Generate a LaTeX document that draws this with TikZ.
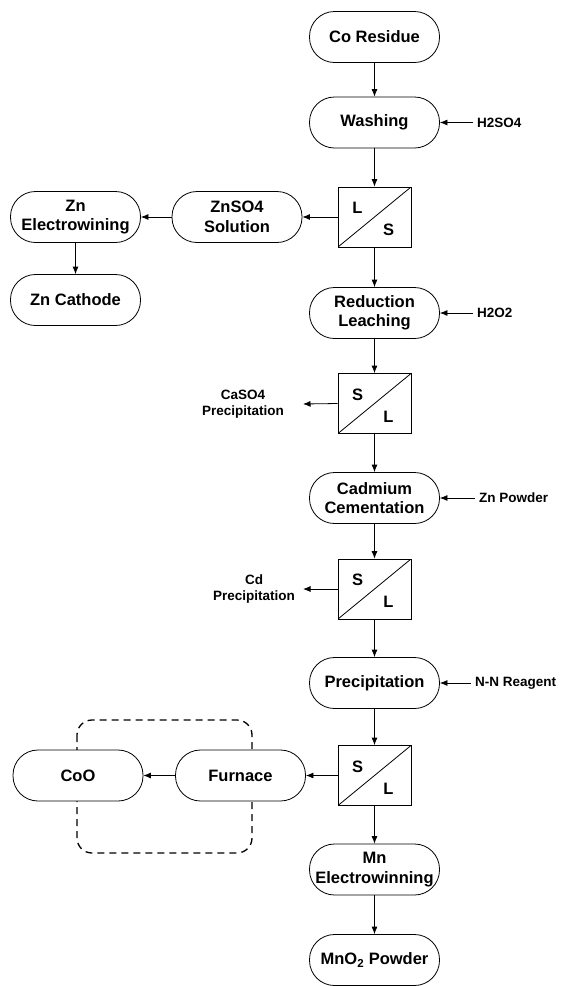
\documentclass[tikz,border=0pt]{standalone}
\usepackage{fontspec}
\setmainfont{Liberation Sans}
\usetikzlibrary{arrows.meta}
\begin{document}
\begin{tikzpicture}[x=1pt,y=-1pt,
  proc/.style={draw, fill=white, rounded corners=25pt, minimum width=130pt, minimum height=51pt, inner sep=0pt, align=center, font=\fontsize{16.5}{19.5}\selectfont\bfseries, line width=0.8pt},
  sepbox/.style={draw, fill=white, minimum width=73pt, minimum height=60pt, inner sep=0pt, line width=0.8pt,
    path picture={\draw[line width=0.8pt] (path picture bounding box.south west) -- (path picture bounding box.north east);}},
  sl/.style={font=\fontsize{16.5}{16.5}\selectfont\bfseries, inner sep=0pt},
  side/.style={font=\fontsize{13.5}{16.5}\selectfont\bfseries, align=center, inner sep=0pt},
  rside/.style={side, anchor=west, inner xsep=4pt},
  arr/.style={-{Latex[length=7.5pt,width=6pt]}, line width=0.8pt},
  dashbox/.style={line width=1.3pt, dash pattern=on 7pt off 5pt, rounded corners=15pt},
]
\useasboundingbox (0,0) rectangle (570,986);

% dashed enclosure (behind)
\draw[dashbox] (77,720) rectangle (252,853);

% main column
\node[proc] (cores) at (374.5,37) {Co Residue};
\node[proc] (wash) at (374.5,122.5) {Washing};
\node[sepbox] (s1) at (374.5,217) {};
\node[sl] (s1a) at ([xshift=-17pt,yshift=9pt]s1.center) {L};
\node[sl] (s1b) at ([xshift=14pt,yshift=-13pt]s1.center) {S};
\node[proc] (redl) at (374.5,313) {Reduction\\Leaching};
\node[sepbox] (s2) at (374.5,403.5) {};
\node[sl] (s2a) at ([xshift=-17pt,yshift=9pt]s2.center) {S};
\node[sl] (s2b) at ([xshift=14pt,yshift=-13pt]s2.center) {L};
\node[proc] (cdc) at (374.5,498) {Cadmium\\Cementation};
\node[sepbox] (s3) at (374.5,589) {};
\node[sl] (s3a) at ([xshift=-17pt,yshift=9pt]s3.center) {S};
\node[sl] (s3b) at ([xshift=14pt,yshift=-13pt]s3.center) {L};
\node[proc] (prec) at (374.5,683) {Precipitation};
\node[sepbox] (s4) at (374.5,775.5) {};
\node[sl] (s4a) at ([xshift=-17pt,yshift=9pt]s4.center) {S};
\node[sl] (s4b) at ([xshift=14pt,yshift=-13pt]s4.center) {L};
\node[proc] (mnel) at (374.5,869.5) {Mn\\Electrowinning};
\node[proc] (mno2) at (374.5,960) {MnO\textsubscript{2} Powder};

% left branches
\node[proc] (znso4) at (237,217) {ZnSO4\\Solution};
\node[proc] (znel) at (75.5,217) {Zn\\Electrowining};
\node[proc] (zncat) at (75.5,300) {Zn Cathode};
\node[proc] (furn) at (240.5,775.5) {Furnace};
\node[proc] (coo) at (78,775.5) {CoO};

% side reagents
\node[rside] (h2so4) at (473,122.5) {H2SO4};
\node[rside] (h2o2) at (473,313) {H2O2};
\node[rside] (znp) at (475,498) {Zn Powder};
\node[rside] (nn) at (471,683) {N-N Reagent};

\node[side] (caso4) at (243,404) {CaSO4\\Precipitation};
\coordinate (caso4t) at (303,404);
\node[side] (cdp) at (254,589) {Cd\\Precipitation};
\coordinate (cdpt) at (303,589);

% connectors
\draw[arr] (cores) -- (wash);
\draw[arr] (wash) -- (s1);
\draw[arr] (s1) -- (redl);
\draw[arr] (redl) -- (s2);
\draw[arr] (s2) -- (cdc);
\draw[arr] (cdc) -- (s3);
\draw[arr] (s3) -- (prec);
\draw[arr] (prec) -- (s4);
\draw[arr] (s4) -- (mnel);
\draw[arr] (mnel) -- (mno2);

\draw[arr] (s1) -- (znso4);
\draw[arr] (znso4) -- (znel);
\draw[arr] (znel) -- (zncat);
\draw[arr] (s4) -- (furn);
\draw[arr] (furn) -- (coo);

\draw[arr] (h2so4.west) -- (wash.east);
\draw[arr] (h2o2.west) -- (redl.east);
\draw[arr] (znp.west) -- (cdc.east);
\draw[arr] (nn.west) -- (prec.east);

\draw[arr] (s2.west) -- (caso4t);
\draw[arr] (s3.west) -- (cdpt);
\end{tikzpicture}
\end{document}
